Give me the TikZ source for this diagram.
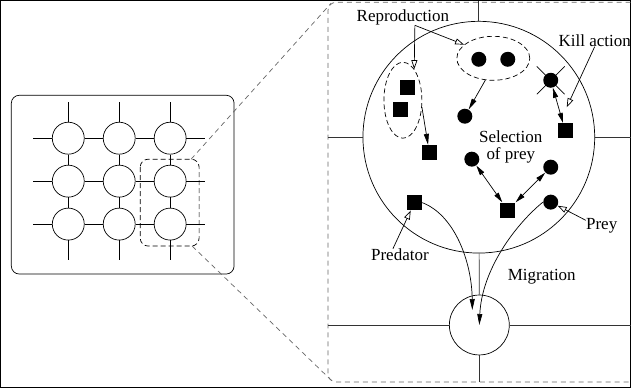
\documentclass[tikz,border=0pt]{standalone}
\usepackage{fontspec}
\setmainfont{Liberation Serif}
\usetikzlibrary{arrows.meta,shapes.geometric}

\begin{document}
\begin{tikzpicture}[
  x=1pt,y=-1pt,
  every path/.style={draw=black,line width=.7pt},
  note/.style={inner sep=0pt,align=center,font=\fontsize{17}{17.5}\selectfont},
  cell/.style={draw,circle,minimum size=32pt,inner sep=0pt},
  island/.style={draw,circle,inner sep=0pt},
  prey/.style={circle,fill=black,minimum size=15pt,inner sep=0pt},
  predator/.style={rectangle,fill=black,minimum size=15pt,inner sep=0pt},
  clutch/.style={draw,dashed,ellipse,inner sep=0pt,dash pattern=on 5pt off 3pt},
  zoomline/.style={draw=black!60,dash pattern=on 5pt off 4pt},
  move/.style={-{Triangle[length=11pt,width=5pt]}},
  fight/.style={{Triangle[length=10pt,width=5pt]}-{Triangle[length=10pt,width=5pt]}},
  pointer/.style={-{Triangle[open,length=9pt,width=6pt]}}]

\useasboundingbox (0,0) rectangle (631,387);

% whole grid
\draw[rounded corners=8pt] (11,95) rectangle (234,274);
\foreach \r in {1,2,3}
  \foreach \c in {1,2,3}
    \node[cell] (c\r\c) at ({17+51*\c},{95+43*\r}) {};
\foreach \r in {1,2,3} {
  \draw (c\r1.west) -- +(-19,0);
  \draw (c\r1) -- (c\r2);
  \draw (c\r2) -- (c\r3);
  \draw (c\r3.east) -- +(19,0);
}
\foreach \c in {1,2,3} {
  \draw (c1\c.north) -- +(0,-20);
  \draw (c1\c) -- (c2\c);
  \draw (c2\c) -- (c3\c);
  \draw (c3\c.south) -- +(0,20);
}
\draw[dashed,dash pattern=on 5pt off 3pt,rounded corners=8pt] (140,159) rectangle (199,246);

% zoomed part
\draw[zoomline,rounded corners=8pt] (640,2) -- (328,2) -- (328,382) -- (640,382);
\draw[zoomline] (191,159) -- (331,3);
\draw[zoomline] (192,246) -- (332,381);

\node[island,minimum size=232pt] (isl1) at (479,137) {};
\node[island,minimum size=60pt] (isl2) at (479.5,325) {};
\draw[draw=black!80] (isl1.north) -- +(0,-20);
\draw[draw=black!80] (isl1.west) -- +(-35,0);
\draw[draw=black!80] (isl1.east) -- +(36,0);
\draw[draw=black!80] (isl1) -- (isl2);
\draw[draw=black!80] (isl2.west) -- +(-121,0);
\draw[draw=black!80] (isl2.east) -- +(122,0);
\draw[draw=black!80] (isl2.south) -- +(0,27);

% individuals
\node[clutch,minimum width=73pt,minimum height=44pt] (topgrp) at (493.5,58) {};
\node[prey] (p1) at (479,59) {};
\node[prey] (p2) at (508,59) {};
\node[clutch,minimum width=38pt,minimum height=76pt] (leftgrp) at (403,100) {};
\node[predator] (sq1) at (407.5,87.5) {};
\node[predator] (sq2) at (400.5,109.5) {};
\node[predator] (sq3) at (429.5,152.5) {};
\node[prey] (p3) at (465,116) {};
\node[prey] (kill) at (551,80) {};
\node[predator] (sq4) at (565.5,130.5) {};
\node[prey] (p4) at (472,159) {};
\node[prey] (p5) at (551,167) {};
\node[predator] (sq5) at (508,210) {};
\node[predator] (sq6) at (414.5,202.5) {};
\node[prey] (preyc) at (551,202) {};

\draw ([shift={(-14,-14)}]kill.center) -- ([shift={(14,14)}]kill.center);
\draw ([shift={(-14,14)}]kill.center) -- ([shift={(14,-14)}]kill.center);

% labels
\node[note] (reprolbl) at (403,17) {Reproduction};
\node[note] (killlbl) at (595,40) {Kill action};
\node[note] (sellbl) at (511,147) {Selection\\of prey};
\node[note] (preylbl) at (602,226) {Prey};
\node[note] (predlbl) at (400,255) {Predator};
\node[note] (miglbl) at (542,277) {Migration};
\coordinate (killtip) at (567,107);
\coordinate (reprofoot) at (415,25);

% actions
\draw[move] (leftgrp.-20) -- (sq3);
\draw[move] (topgrp.250) -- (p3);
\draw[fight] (kill) -- (sq4);
\draw[fight] (p4) -- (sq5);
\draw[fight] (p5) -- (sq5);
\draw[pointer] (reprofoot) -- (leftgrp.70);
\draw[pointer] (reprofoot) -- (topgrp.155);
\draw[pointer] (killlbl.south) -- (killtip);
\draw[pointer] (preylbl.160) -- (preyc);
\draw[pointer] ([xshift=-7pt]predlbl.north) -- (sq6);
\draw[move] (sq6.east) .. controls (455,215) and (472,262) .. ([shift={(-7,-15)}]isl2.center);
\draw[move] (preyc.west) .. controls (515,225) and (482,270) .. (isl2.center);
\end{tikzpicture}
\end{document}
